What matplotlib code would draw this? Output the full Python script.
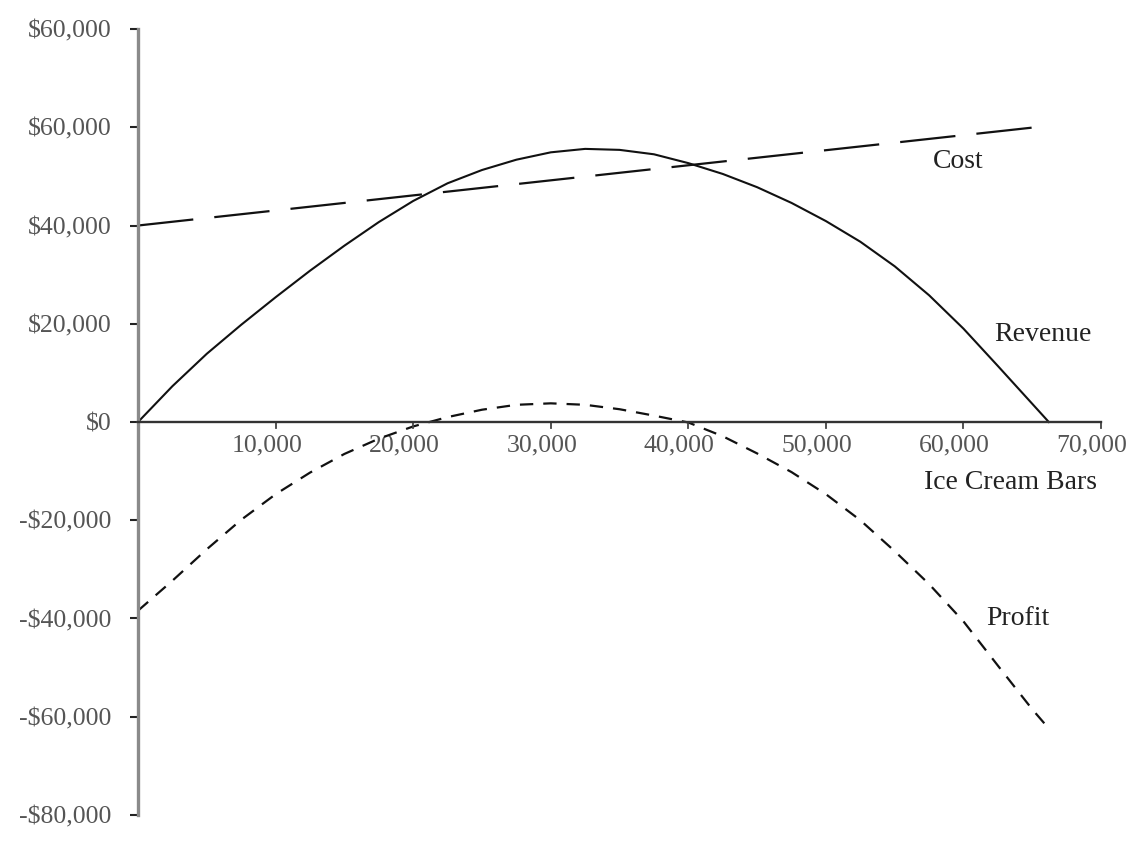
import matplotlib
matplotlib.use("Agg")
import matplotlib.pyplot as plt
import matplotlib.transforms as mtransforms

# values
bars = [0, 2500, 5000, 7500, 10000, 12500, 15000, 17500, 20000, 22500, 25000,
        27500, 30000, 32500, 35000, 37500, 40000, 42500, 45000, 47500, 50000,
        52500, 55000, 57500, 60000, 62500, 65000, 66200]
revenue = [0, 7300, 13900, 19800, 25400, 30800, 35900, 40700, 45000, 48600, 51300,
           53400, 54900, 55600, 55400, 54500, 52700, 50500, 47800, 44600, 40900,
           36700, 31700, 25800, 19000, 11400, 3700, 0]

cost_bars = [0, 66200]
cost = [40000, 60300]

profit_bars = [0, 2500, 5000, 7500, 10000, 12500, 15000, 17500, 20000, 22500, 25000,
               27500, 30000, 32500, 35000, 37500, 40000, 42500, 45000, 47500, 50000,
               52500, 55000, 57500, 60000, 62500, 65000, 66200]
profit = [-38400, -32300, -25900, -19900, -14700, -10300, -6500, -3400, -900, 1000,
          2500, 3500, 3800, 3500, 2600, 1300, -100, -2900, -6400, -10200, -14700,
          -20000, -26300, -33000, -40600, -49600, -58500, -62400]

x_ticks = [10000, 20000, 30000, 40000, 50000, 60000, 70000]
x_labels = ["10,000", "20,000", "30,000", "40,000", "50,000", "60,000", "70,000"]
y_ticks = [-80000, -60000, -40000, -20000, 0, 20000, 40000, 60000, 80000]
y_labels = ["-$80,000", "-$60,000", "-$40,000", "-$20,000", "$0",
            "$20,000", "$40,000", "$60,000", "$60,000"]

plt.rcParams["font.family"] = ["Liberation Serif", "DejaVu Serif"]

fig = plt.figure(figsize=(11.41, 8.44), dpi=100)
ax = fig.add_axes([0.121, 0.0344, 0.844, 0.9312])

ax.plot(bars, revenue, color="#111111", lw=1.5, solid_joinstyle="round")
ax.plot(cost_bars, cost, color="#111111", lw=1.6, dashes=(25, 9.5))
ax.plot(profit_bars, profit, color="#111111", lw=1.6, dashes=(6, 4.5),
        dash_joinstyle="round")

ax.set_xlim(0, 70000)
ax.set_ylim(-80000, 80000)

for s in ("top", "right"):
    ax.spines[s].set_visible(False)
ax.spines["bottom"].set_position(("data", 0))
ax.spines["bottom"].set_color("#333333")
ax.spines["bottom"].set_linewidth(1.7)
ax.spines["left"].set_color("#8a8a8a")
ax.spines["left"].set_linewidth(2.4)

ax.set_xticks(x_ticks)
ax.set_xticklabels(x_labels)
ax.set_yticks(y_ticks)
ax.set_yticklabels(y_labels)
ax.tick_params(axis="x", direction="in", length=0, pad=9, labelsize=18.5,
               labelcolor="#555555")
ax.tick_params(axis="y", direction="out", length=6, width=1.5, color="#222222",
               pad=13, labelsize=18.5, labelcolor="#555555")

# small downward ticks on the x axis
for xt in x_ticks:
    ax.plot([xt, xt], [0, -1300], color="#444444", lw=1.3, clip_on=False)

shift = mtransforms.ScaledTranslation(-9 / 100, 0, fig.dpi_scale_trans)
for lab in ax.get_xticklabels():
    lab.set_transform(lab.get_transform() + shift)

ax.text(59640, 53000, "Cost", fontsize=20, color="#222222", ha="center", va="center")
ax.text(65750, 17900, "Revenue", fontsize=20, color="#222222", ha="center", va="center")
ax.text(63930, -40000, "Profit", fontsize=20, color="#222222", ha="center", va="center")
ax.text(63420, -12400, "Ice Cream Bars", fontsize=20, color="#222222",
        ha="center", va="center", clip_on=False)

fig.savefig("out.png", dpi=100, facecolor="white")
